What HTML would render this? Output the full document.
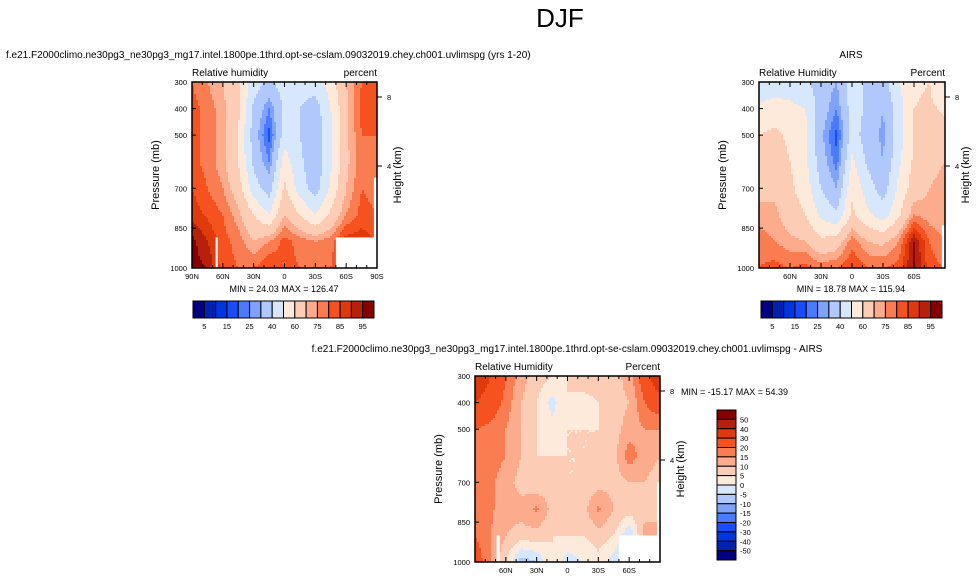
<!DOCTYPE html>
<html><head><meta charset="utf-8"><style>
html,body{margin:0;padding:0;background:#fff;}
svg{display:block;font-family:"Liberation Sans",sans-serif;}
</style></head><body>
<svg id="fig" width="979" height="582" viewBox="0 0 979 582" xmlns="http://www.w3.org/2000/svg">
<text x="560" y="27" font-size="26" text-anchor="middle">DJF</text>
<text x="6" y="58" font-size="10">f.e21.F2000climo.ne30pg3_ne30pg3_mg17.intel.1800pe.1thrd.opt-se-cslam.09032019.chey.ch001.uvlimspg (yrs 1-20)</text>
<text x="851" y="58" font-size="10" text-anchor="middle">AIRS</text>
<text x="567" y="352" font-size="10" text-anchor="middle">f.e21.F2000climo.ne30pg3_ne30pg3_mg17.intel.1800pe.1thrd.opt-se-cslam.09032019.chey.ch001.uvlimspg - AIRS</text>
<g id="layer"></g>
</svg>
<script>
// data: latitude columns 90N..90S (15 deg step), pressure rows 300..1000 mb (100 mb step)
const latitudes = [90,75,60,45,30,15,0,-15,-30,-45,-60,-75,-90];
const pressures = [300,400,500,600,700,800,900,1000];
const levelsRH = [5,10,15,20,25,30,40,50,60,70,75,80,85,90,95];
const levelsDiff = [-50,-40,-30,-20,-15,-10,-5,0,5,10,15,20,30,40,50];
const rhLabels = ["5","15","25","40","60","75","85","95"];
const diffLabels = ["50","40","30","20","15","10","5","0","-5","-10","-15","-20","-30","-40","-50"];
const latTickLabels = ["90N","60N","30N","0","30S","60S","90S"];
const presTickLabels = [300,400,500,700,850,1000];
const heightTicks = [8,4];
const modelRH = [
[80,75,70,62,45,38,45,45,45,55,70,80,80],
[82,78,72,62,38,25,42,40,35,50,68,82,80],
[82,78,72,60,35,18,45,40,33,48,68,80,80],
[82,78,72,60,38,25,55,42,33,48,68,78,78],
[85,80,75,65,45,35,62,45,35,52,70,80,78],
[88,84,80,72,60,50,70,60,50,62,75,82,80],
[97,90,82,78,70,75,82,78,75,78,88,88,85],
[97,95,82,80,80,85,82,80,80,80,85,85,85]];
const airsRH = [
[42,42,45,42,35,30,45,38,35,50,58,60,48],
[52,55,52,50,35,25,45,38,30,45,60,62,58],
[60,62,58,52,32,18,45,35,28,45,60,65,65],
[65,65,60,52,35,22,52,38,30,48,62,68,70],
[68,68,62,55,40,30,58,45,35,52,65,70,72],
[72,72,65,60,48,42,62,52,45,58,75,72,70],
[78,75,72,70,62,65,78,70,68,75,95,80,75],
[80,82,80,82,78,80,85,80,80,82,97,82,80]];
const diffRH = [
[40,30,20,12,8,5,5,8,8,8,12,25,40],
[30,25,18,10,5,-2,5,3,5,8,10,20,25],
[20,18,15,10,5,2,5,5,5,8,12,15,15],
[18,18,15,10,5,5,5,5,5,8,18,12,10],
[18,16,12,8,5,8,5,5,8,8,10,10,8],
[18,16,12,12,16,8,5,8,16,10,8,8,10],
[20,15,10,8,8,5,5,5,8,5,-5,12,10],
[25,15,5,-8,-5,5,-3,0,3,-3,-10,5,10]];

const colors = ["#000080","#0022b0","#0036e0","#1a4cff","#4a7aff","#80a3fa","#b0c8fc","#d7e8fd","#feeadb","#fdccb5","#fcab8c","#fa7d52","#f5521f","#df3a0c","#b7200a","#870000"];
const NS="http://www.w3.org/2000/svg";
const layer=document.getElementById('layer');
function mk(tag,attrs,parent){const e=document.createElementNS(NS,tag);for(const k in attrs)e.setAttribute(k,attrs[k]);(parent||layer).appendChild(e);return e;}
function colorFor(v,levels){let i=0;while(i<levels.length&&v>=levels[i])i++;return colors[i];}
function sample(data,lat,p){
  const u=Math.max(0,Math.min(12,(90-lat)/15)), v=Math.max(0,Math.min(7,(p-300)/100));
  const i0=Math.min(Math.floor(u),latitudes.length-2), j0=Math.min(Math.floor(v),pressures.length-2);
  const fu=u-i0, fv=v-j0;
  const a=data[j0][i0],b=data[j0][i0+1],c=data[j0+1][i0],d=data[j0+1][i0+1];
  return a*(1-fu)*(1-fv)+b*fu*(1-fv)+c*(1-fu)*fv+d*fu*fv;
}
function drawPanel(cfg){
  const g=mk('g',{});
  
  
  const X=lat=>cfg.x+(90-lat)/180*cfg.w;
  const Y=p=>cfg.y+(p-300)/700*cfg.h;
  const fg=mk('g',{},g);
  
  
  const s=2;
  for(let py=0;py<cfg.h;py+=s){
    const p=300+(py+s/2)/cfg.h*700;
    const hh=Math.min(s+0.5,cfg.h-py);
    let runStart=0,runCol=null;
    for(let px=0;;px+=s){
      const done=px>=cfg.w;
      let col=null;
      if(!done){const lat=90-(px+s/2)/cfg.w*180;col=colorFor(sample(cfg.data,lat,p),cfg.levels);}
      if(col!==runCol){
        if(runCol!==null){const end=Math.min(px+0.5,cfg.w);const r=mk('rect',{x:cfg.x+runStart,y:cfg.y+py,width:end-runStart,height:hh,fill:runCol},fg);}
        runStart=px;runCol=col;
      }
      if(done)break;
    }
  }
  (cfg.missing||[]).forEach(m=>{const r=mk('rect',{x:X(m[0]),y:Y(m[2]),width:X(m[1])-X(m[0]),height:Y(m[3])-Y(m[2]),fill:'#fff'},g);});
  const fr=mk('rect',{x:cfg.x,y:cfg.y,width:cfg.w,height:cfg.h,fill:'none',stroke:'#000','stroke-width':1.5},g);
  
  for(let lat=90;lat>=-90;lat-=10){
    const major=lat%30===0, L=major?5:3;
    mk('line',{x1:X(lat),x2:X(lat),y1:cfg.y,y2:cfg.y+L,stroke:'#000','stroke-width':1},g);
    mk('line',{x1:X(lat),x2:X(lat),y1:cfg.y+cfg.h,y2:cfg.y+cfg.h-L,stroke:'#000','stroke-width':1},g);
  }
  latTickLabels.forEach((t,i)=>{
    if(!cfg.edgeLabels&&(i===0||i===latTickLabels.length-1))return;
    const tx=mk('text',{x:X(90-30*i),y:cfg.y+cfg.h+11,'font-size':7.5,'text-anchor':'middle'},g);tx.textContent=t;
    
  });
  presTickLabels.forEach(p=>{
    mk('line',{x1:cfg.x,x2:cfg.x+4,y1:Y(p),y2:Y(p),stroke:'#000'},g);
    const tx=mk('text',{x:cfg.x-5,y:Y(p)+3,'font-size':7.5,'text-anchor':'end'},g);tx.textContent=p;
    
  });
  const hy={8:cfg.y+15,4:cfg.y+84};
  heightTicks.forEach(h=>{
    mk('line',{x1:cfg.x+cfg.w,x2:cfg.x+cfg.w+5,y1:hy[h],y2:hy[h],stroke:'#000'},g);
    const tx=mk('text',{x:cfg.x+cfg.w+10,y:hy[h]+3,'font-size':7.5},g);tx.textContent=h;
    
  });
  let t=mk('text',{x:cfg.x,y:cfg.y-6,'font-size':10},g);t.textContent=cfg.left;
  
  t=mk('text',{x:cfg.x+cfg.w,y:cfg.y-6,'font-size':10,'text-anchor':'end'},g);t.textContent=cfg.right;
  
  const cy=cfg.y+cfg.h/2;
  t=mk('text',{x:0,y:0,'font-size':11,'text-anchor':'middle',transform:`translate(${cfg.x-33},${cy}) rotate(-90)`},g);t.textContent='Pressure (mb)';
  
  t=mk('text',{x:0,y:0,'font-size':11,'text-anchor':'middle',transform:`translate(${cfg.x+cfg.w+24},${cy}) rotate(-90)`},g);t.textContent='Height (km)';
  
  t=mk('text',{x:cfg.mm[0],y:cfg.mm[1],'font-size':9,'text-anchor':cfg.mm[2]},g);t.textContent=cfg.minmax;
  
}
function hbar(x,y,w,h,name){
  const g=mk('g',{});
  const bw=w/16;
  colors.forEach((c,i)=>{const r=mk('rect',{x:x+i*bw,y:y,width:bw,height:h,fill:c,stroke:'#000','stroke-width':1},g);});
  rhLabels.forEach((l,k)=>{const t=mk('text',{x:x+(2*k+1)*bw,y:y+h+11,'font-size':7.5,'text-anchor':'middle'},g);t.textContent=l;});
}
function vbar(x,y,w,h,name){
  const g=mk('g',{});
  const bh=h/16;
  colors.slice().reverse().forEach((c,i)=>{const r=mk('rect',{x:x,y:y+i*bh,width:w,height:bh,fill:c,stroke:'#000','stroke-width':1},g);});
  diffLabels.forEach((l,k)=>{const t=mk('text',{x:x+w+4,y:y+(k+1)*bh+3,'font-size':7.5},g);t.textContent=l;});
}
drawPanel({name:'model-panel',x:192,y:82,w:185,h:186,data:modelRH,levels:levelsRH,edgeLabels:true,left:'Relative humidity',right:'percent',minmax:'MIN =  24.03  MAX = 126.47',mm:[284,292,'middle'],
  missing:[[-50,-88,885,1000],[-87,-90,660,1000],[67,65,885,1000]]});
drawPanel({name:'airs-panel',x:759,y:82,w:186,h:186,data:airsRH,levels:levelsRH,edgeLabels:false,left:'Relative Humidity',right:'Percent',minmax:'MIN =  18.78  MAX = 115.94',mm:[851,292,'middle'],
  missing:[[-87,-90,840,1000]]});
drawPanel({name:'diff-panel',x:475,y:376,w:185,h:186,data:diffRH,levels:levelsDiff,edgeLabels:false,left:'Relative Humidity',right:'Percent',minmax:'MIN = -15.17  MAX =  54.39',mm:[681,395,'start'],
  missing:[[-50,-88,900,1000],[69,66,900,1000],[-87,-90,700,1000]]});
hbar(193,301,181,17,'model-colorbar');
hbar(761,301,181,17,'airs-colorbar');
vbar(717,410,19,150,'diff-colorbar');
</script>
</body></html>
